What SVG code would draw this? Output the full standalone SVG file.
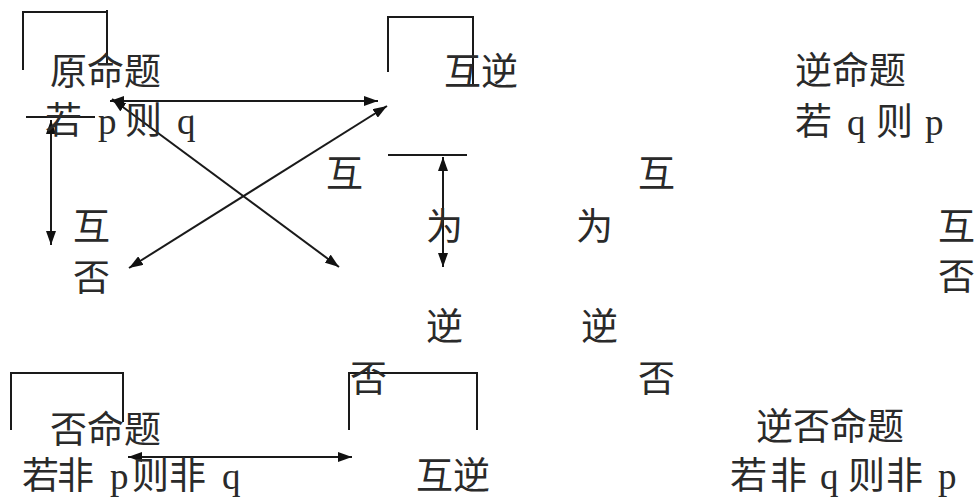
<svg xmlns="http://www.w3.org/2000/svg" width="977" height="498" viewBox="0 0 977 498">
  <style>
    .t { font-family: "Liberation Serif", "Noto Sans CJK SC", serif; font-size: 37px; fill: #2a2a2a; }
    .ln { stroke: #1a1a1a; stroke-width: 2; fill: none; }
    .ar { stroke: #1a1a1a; stroke-width: 2; fill: none; marker-start: url(#ah); marker-end: url(#ah); }
  </style>
  <defs>
    <marker id="ah" viewBox="0 0 14 10" refX="14" refY="5" markerWidth="14" markerHeight="10" markerUnits="userSpaceOnUse" orient="auto-start-reverse">
      <path d="M0,0 L14,5 L0,10 z" fill="#111"/>
    </marker>
  </defs>
  <rect width="977" height="498" fill="#fff"/>

  <g id="brackets">
    <path class="ln" d="M23,70 V12 H107"/>
    <path class="ln" d="M107,10 V63"/>
    <path class="ln" d="M388,72 V17 H473 V85"/>
    <path class="ln" d="M26,117 H95"/>
    <path class="ln" d="M388,155 H467"/>
    <path class="ln" d="M11,430 V373 H123 V422"/>
    <path class="ln" d="M349,430 V373 H477 V430"/>
  </g>

  <g id="connectors">
    <line class="ar" x1="110" y1="101" x2="378" y2="101"/>
    <line class="ar" x1="112" y1="99" x2="339" y2="267"/>
    <line class="ar" x1="387" y1="106" x2="129" y2="268"/>
    <line class="ar" x1="51" y1="120" x2="51" y2="245"/>
    <line class="ar" x1="443" y1="157" x2="443" y2="267"/>
    <line class="ar" x1="128" y1="457" x2="352" y2="457"/>
  </g>

  <g id="node-original">
    <text class="t" x="50" y="85">原命题</text>
    <text class="t" y="134"><tspan x="45">若</tspan><tspan x="98">p</tspan><tspan x="125">则</tspan><tspan x="177">q</tspan></text>
  </g>
  <g id="node-converse">
    <text class="t" x="795" y="84">逆命题</text>
    <text class="t" y="135"><tspan x="795">若</tspan><tspan x="847">q</tspan><tspan x="876">则</tspan><tspan x="925">p</tspan></text>
  </g>
  <g id="node-inverse">
    <text class="t" x="50" y="443">否命题</text>
    <text class="t" y="489"><tspan x="22">若</tspan><tspan x="57">非</tspan><tspan x="110">p</tspan><tspan x="132">则</tspan><tspan x="169">非</tspan><tspan x="222">q</tspan></text>
  </g>
  <g id="node-contrapositive">
    <text class="t" x="756" y="440">逆否命题</text>
    <text class="t" y="489"><tspan x="730">若</tspan><tspan x="770">非</tspan><tspan x="820">q</tspan><tspan x="848">则</tspan><tspan x="886">非</tspan><tspan x="938">p</tspan></text>
  </g>

  <g id="labels">
    <text class="t" x="444" y="85">互逆</text>
    <text class="t" x="416" y="489">互逆</text>
    <text class="t" x="326" y="187">互</text>
    <text class="t" x="638" y="187">互</text>
    <text class="t" x="73" y="240">互</text>
    <text class="t" x="73" y="291">否</text>
    <text class="t" x="938" y="240">互</text>
    <text class="t" x="938" y="290">否</text>
    <text class="t" x="426" y="240">为</text>
    <text class="t" x="576" y="240">为</text>
    <text class="t" x="426" y="340">逆</text>
    <text class="t" x="581" y="340">逆</text>
    <text class="t" x="350" y="392">否</text>
    <text class="t" x="638" y="392">否</text>
  </g>
</svg>
